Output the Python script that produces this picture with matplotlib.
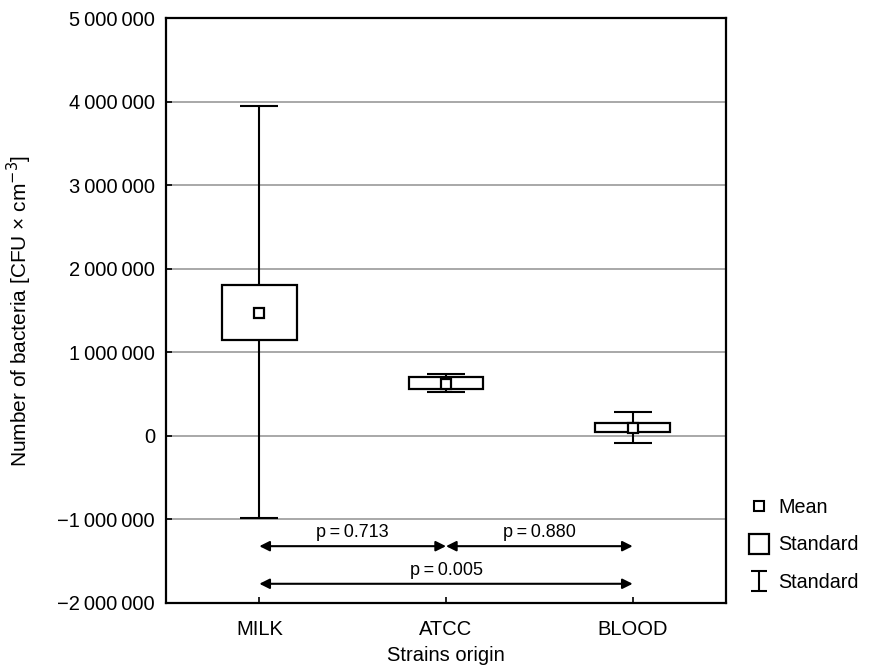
import matplotlib
matplotlib.use("Agg")
import matplotlib.pyplot as plt
from matplotlib.lines import Line2D
from matplotlib.path import Path
from matplotlib.ticker import FuncFormatter

plt.rcParams.update({"font.family": ["Liberation Sans", "DejaVu Sans"], "font.size": 14.5})

# data (CFU x cm^-3)
origins = ["MILK", "ATCC", "BLOOD"]
means = [1470000, 620000, 100000]
box_lo = [1150000, 560000, 48000]
box_hi = [1810000, 710000, 156000]
whisk_lo = [-980000, 530000, -80000]
whisk_hi = [3950000, 740000, 290000]
p_pairs = [(0, 1), (1, 2), (0, 2)]
p_values = [0.713, 0.880, 0.005]
p_levels = [-1320000, -1320000, -1770000]

fig = plt.figure(figsize=(8.69, 6.66), dpi=100)
ax = fig.add_axes([166/869, 63/666, 560/869, 585/666])
x = list(range(len(origins)))

# whiskers, boxes, means
for xi, m, lo, hi in zip(x, means, whisk_lo, whisk_hi):
    ax.errorbar(xi, m, yerr=[[m - lo], [hi - m]], fmt="none", ecolor="black",
                elinewidth=1.5, capsize=13.5, capthick=1.5, zorder=2)
ax.bar(x, [h - l for h, l in zip(box_hi, box_lo)], bottom=box_lo, width=0.4,
       facecolor="white", edgecolor="black", linewidth=1.6, zorder=3)
ax.plot(x, means, ls="none", marker="s", ms=6.5, mfc="white", mec="black", mew=1.6, zorder=4)

# significance arrows
for (a, b), p, lev in zip(p_pairs, p_values, p_levels):
    ax.annotate("", xy=(x[b], lev), xytext=(x[a], lev),
                arrowprops=dict(arrowstyle="<|-|>", color="black", lw=1.5,
                                mutation_scale=15, shrinkA=0, shrinkB=0))
    ax.text((x[a] + x[b]) / 2, lev + 60000, f"p\u2009=\u2009{p:.3f}", ha="center", va="bottom",
            fontsize=13)

ax.set_xlim(-0.5, 2.5)
ax.set_ylim(-2000000, 5000000)
ax.set_yticks(range(-2000000, 5000001, 1000000))
ax.yaxis.set_major_formatter(FuncFormatter(
    lambda v, _: f"{int(v):,}".replace(",", "\u2009").replace("-", "\u2212")))
ax.set_xticks(x)
ax.set_xticklabels(origins)
ax.tick_params(direction="in", length=4, width=1.2, pad=8)
ax.tick_params(axis="x", pad=12)
ax.grid(axis="y", color="#999999", lw=1.2)
ax.set_axisbelow(True)
for s in ax.spines.values():
    s.set_linewidth(1.6)
ax.set_xlabel("Strains origin", labelpad=5)
ax.set_ylabel("Number of bacteria [CFU \u00d7 cm$^{\u22123}$]", labelpad=17, fontsize=15)

# legend
ibar = Path([(-0.8, 1), (0.8, 1), (0, 1), (0, -1), (-0.8, -1), (0.8, -1)],
            [Path.MOVETO, Path.LINETO, Path.MOVETO, Path.LINETO, Path.MOVETO, Path.LINETO])
handles = [Line2D([], [], ls="none", marker="s", ms=6.5, mfc="white", mec="black", mew=1.5),
           Line2D([], [], ls="none", marker="s", ms=15, mfc="white", mec="black", mew=1.6),
           Line2D([], [], ls="none", marker=ibar, ms=15, mec="black", mew=1.5)]
fig.legend(handles, ["Mean", "Standard", "Standard"], loc="upper left",
           bbox_to_anchor=(729/869, 1 - 480/666), frameon=False, handlelength=1.2,
           handletextpad=0.4, labelspacing=0.95, fontsize=14.2)

fig.savefig("out.png", dpi=100)
